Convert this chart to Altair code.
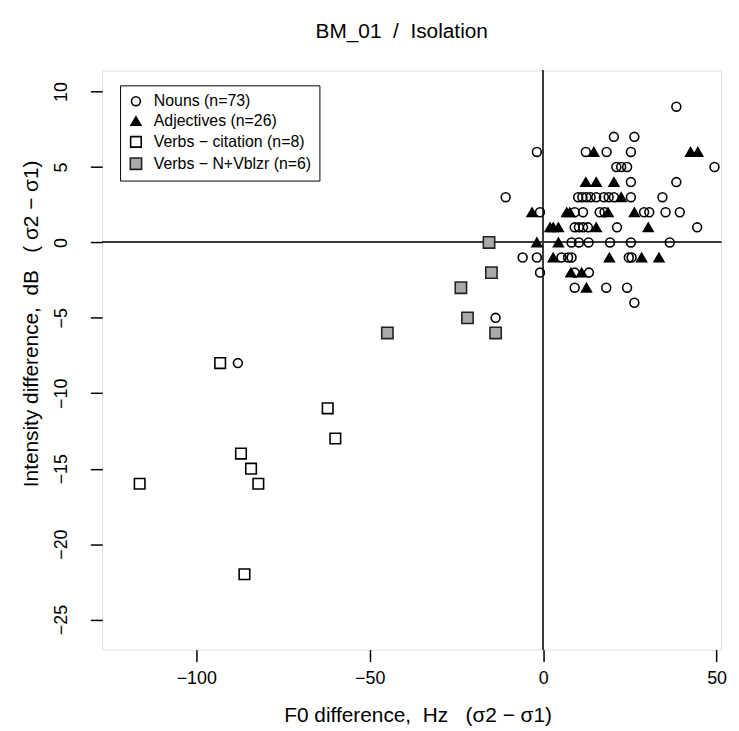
import altair as alt
import pandas as pd

# ---- data ----
noun_x = [38.4, 20.4, 26.3, -1.8, 12.3, 18.3, 25.3, 21.1, 22.5, 24.2, 49.4, 25.3, 38.4,
          -10.8, 10.1, 11.3, 12.5, 13.7, 15.3, 17.5, 18.9, 20.4, 25.3, 34.4,
          -0.9, 9.1, 11.5, 16.3, 17.7, 29.1, 30.6, 35.3, 39.4,
          9.1, 10.3, 11.5, 12.9, 21.3, 44.4,
          8.2, 10.3, 13.1, 19.3, 25.3, 36.5,
          -5.9, -1.8, 5.3, 7.2, 8.2, 24.7, 25.5,
          -0.9, 9.1, 13.2, 9.1, 18.2, 24.2, 26.3, -13.7, -88.0]
noun_y = [9, 7, 7, 6, 6, 6, 6, 5, 5, 5, 5, 4, 4,
          3, 3, 3, 3, 3, 3, 3, 3, 3, 3, 3,
          2, 2, 2, 2, 2, 2, 2, 2, 2,
          1, 1, 1, 1, 1, 1,
          0, 0, 0, 0, 0, 0,
          -1, -1, -1, -1, -1, -1, -1,
          -2, -2, -2, -3, -3, -3, -4, -5, -8]

adj_x = [14.6, 42.5, 44.6, 12.3, 15.3, 20.4, 22.5,
         -3.2, 6.8, 7.7, 18.7, 26.3,
         2.0, 2.9, 4.4, 15.3, 30.3,
         -1.8, 4.4, 2.9, 19.1, 28.4, 33.4, 8.0, 11.1, 12.5]
adj_y = [6, 6, 6, 4, 4, 4, 3,
         2, 2, 2, 2, 2,
         1, 1, 1, 1, 1,
         0, 0, -1, -1, -1, -1, -2, -2, -3]

cit_x = [-93.1, -62.1, -59.9, -87.1, -84.2, -82.1, -116.3, -86.1]
cit_y = [-8, -11, -13, -14, -15, -16, -16, -22]

vbl_x = [-15.6, -14.9, -23.7, -21.8, -44.9, -13.7]
vbl_y = [0, -2, -3, -5, -6, -6]

categories = ["Nouns (n=73)", "Adjectives (n=26)",
              "Verbs \u2212 citation (n=8)", "Verbs \u2212 N+Vblzr (n=6)"]
x_ticks = [-100, -50, 0, 50]
y_ticks = [-25, -20, -15, -10, -5, 0, 5, 10]

rows = []
for cat, xs_, ys_ in zip(categories, [noun_x, adj_x, cit_x, vbl_x], [noun_y, adj_y, cit_y, vbl_y]):
    for a, b in zip(xs_, ys_):
        rows.append({"x": a, "y": b, "cat": cat})
df = pd.DataFrame(rows)

FONT = "Liberation Sans"
NB = "\u00a0"
xs = alt.Scale(domain=[-127.1, 51.3], nice=False, zero=False)
ys = alt.Scale(domain=[-27.0, 11.4], nice=False, zero=False)

leg = alt.Legend(orient="none", legendX=18, legendY=15, title=None,
                 strokeColor="black", fillColor="white", padding=8,
                 labelFontSize=16, labelFont=FONT, labelColor="black",
                 rowPadding=4, labelOffset=10, symbolStrokeWidth=1.6)

points = alt.Chart(df).mark_point(filled=True, strokeWidth=1.6, opacity=1).encode(
    x=alt.X("x:Q", scale=xs, axis=alt.Axis(
        values=x_ticks, title=f"F0 difference,{NB}{NB}Hz{NB}{NB}{NB}(\u03c32 \u2212 \u03c31)",
        domain=False, grid=False, tickSize=12, tickColor="black", tickWidth=1.5,
        labelFontSize=18, labelFont=FONT, labelColor="black", labelPadding=8,
        titleFontSize=21, titleFont=FONT, titleFontWeight="normal", titleColor="black",
        titleX=318, titleY=66, titleBaseline="middle")),
    y=alt.Y("y:Q", scale=ys, axis=alt.Axis(
        values=y_ticks, title=f"Intensity difference,{NB}{NB}dB{NB}{NB}{NB}({NB}\u03c32 \u2212 \u03c31)",
        domain=False, grid=False, tickSize=12, tickColor="black", tickWidth=1.5,
        labelFontSize=18, labelFont=FONT, labelColor="black", labelAngle=270,
        labelAlign="center", labelBaseline="bottom", labelPadding=20,
        titleFontSize=21, titleFont=FONT, titleFontWeight="normal", titleColor="black",
        titleX=-71, titleY=255, titleAngle=270, titleBaseline="middle", titleAlign="center")),
    shape=alt.Shape("cat:N", legend=leg, scale=alt.Scale(domain=categories,
                    range=["circle", "triangle-up", "square", "square"])),
    fill=alt.Fill("cat:N", legend=leg, scale=alt.Scale(domain=categories,
                  range=["transparent", "black", "transparent", "#aaaaaa"])),
    stroke=alt.Stroke("cat:N", legend=leg, scale=alt.Scale(domain=categories,
                      range=["black", "black", "black", "#222222"])),
    size=alt.Size("cat:N", legend=leg, scale=alt.Scale(domain=categories, range=[80, 130, 81, 81])),
)

hline = alt.Chart(df).mark_rule(color="#3a3a3a", strokeWidth=1.3).encode(y=alt.datum(0))
vline = alt.Chart(df).mark_rule(color="#3a3a3a", strokeWidth=1.3).encode(x=alt.datum(0))

chart = alt.layer(hline, vline, points).properties(
    width=624, height=584,
    title=alt.TitleParams(f"BM_01{NB}{NB}/{NB}{NB}Isolation", fontSize=21, font=FONT,
                          fontWeight="normal", color="black", anchor="middle",
                          offset=28, dx=-10),
    autosize=alt.AutoSizeParams(type="none"),
    padding={"left": 95, "top": 60, "right": 10, "bottom": 79},
).configure_view(stroke="black", strokeWidth=2).configure(background="white")

chart.save("out.html", embed_options={"renderer": "svg", "actions": False})
